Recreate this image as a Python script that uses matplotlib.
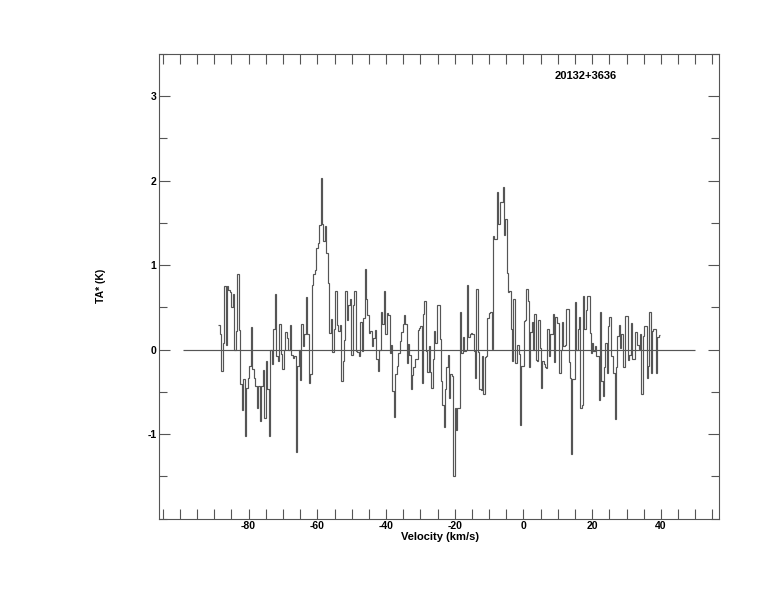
import numpy as np
import matplotlib.pyplot as plt
from matplotlib.ticker import MultipleLocator

plt.rcParams['font.family'] = ['Liberation Sans', 'DejaVu Sans']
plt.rcParams['font.weight'] = 'bold'
plt.rcParams['axes.unicode_minus'] = False

# spectrum in five pieces (TA* in K), each with its velocity span (km/s)
ta_a = [0.29, 0.19, -0.25, 0.08, 0.75, 0.06, 0.75, 0.71, 0.68, 0.51,
        0.66, 0.00, 0.22, 0.90, 0.23, -0.41, -0.71, -0.35, -1.02, -0.45,
        -0.34, -0.19, 0.27, -0.23, -0.33, -0.43, -0.69, -0.43, -0.85, -0.43,
        -0.24, -0.81, -0.13, -0.47, -1.02, 0.00, -0.17, 0.24, 0.66, -0.08,
        -0.13, 0.30, -0.05, -0.23, 0.00, 0.21, 0.14, 0.00, 0.29]
span_a = (-88.9, -67.6)

ta_b = [-0.06, -0.10, -0.08, -1.21, -0.19, 0.00, -0.36, 0.30, 0.04, 0.19,
        0.62, 0.18, -0.40, -0.29, 0.77, 0.89, 0.94, 1.20, 1.26, 1.48,
        2.03, 1.49, 1.29, 1.46, 1.14, 0.79, 0.20, 0.36, -0.03, 0.25,
        0.69, 0.29, 0.22, 0.29, -0.37, -0.13, 0.12, 0.69, 0.35, 0.53,
        0.60, -0.06, 0.53, 0.69, -0.02, -0.03, -0.08, 0.33, -0.02, 0.37,
        0.96, 0.60, 0.41, 0.20, 0.22, 0.04, 0.14, 0.23, -0.11, -0.25,
        0.00, 0.45, 0.30, 0.70, 0.18, 0.43, 0.41, -0.04, 0.06, -0.49,
        -0.80, -0.29, -0.19, -0.04]
span_b = (-67.6, -36.0)

ta_c = [0.10, 0.21, 0.30, 0.41, 0.30, -0.16, 0.07, -0.06, -0.46, -0.30,
        -0.21, -0.11, -0.11, 0.23, 0.26, 0.28, -0.40, 0.42, 0.57, -0.02,
        -0.27, 0.04, -0.27, -0.45, -0.11, 0.22, 0.08, 0.53, 0.53, 0.13,
        -0.37, -0.66, -0.91, -0.47, -0.20, -0.06, -0.57, -0.29, -0.31, -1.50,
        -0.69, -0.95, -0.69, -0.69, 0.44, -0.04, 0.15, -0.02, 0.00, 0.77,
        0.15, 0.19, 0.20, 0.19, -0.02, -0.33, 0.72, -0.03, -0.46, -0.48,
        -0.07, -0.52, -0.09, -0.08, 0.37, 0.43, 0.45, 0.01, 1.34, 1.31,
        1.31, 1.87, 1.49, 1.75, 1.75, 1.92, 1.36, 1.55, 0.91, 0.68]
span_c = (-36.0, -4.1)

ta_d = [0.69, 0.24, -0.13, 0.60, -0.16, -0.16, 0.06, -0.05, -0.89, -0.19,
        -0.19, 0.34, 0.35, 0.72, 0.58, -0.21, 0.21, 0.33, 0.00, 0.42,
        -0.12, -0.13, 0.35, 0.02, -0.45, -0.13, -0.17, -0.21, -0.22, 0.25,
        -0.08, 0.19, 0.19, 0.42, -0.15, 0.39, 0.31, 0.31, -0.28, 0.00,
        0.33, 0.04, 0.06, 0.48, 0.48, -0.15, -0.34, -1.23, -0.35, -0.35,
        0.56, 0.00, 0.24, 0.39, -0.69, -0.65, 0.64, 0.24, 0.47, 0.63,
        0.63, 0.20, -0.04, 0.08, -0.02, 0.04, -0.08, -0.08, -0.60]
span_d = (-4.1, 22.3)

ta_e = [0.45, -0.37, -0.55, -0.20, 0.08, -0.28, 0.28, 0.39, -0.07, -0.07,
        -0.28, -0.82, -0.20, 0.16, 0.29, 0.02, 0.18, -0.21, -0.20, 0.40,
        0.40, -0.12, -0.06, 0.32, -0.11, -0.11, 0.21, 0.21, 0.05, 0.01,
        0.18, -0.53, 0.16, 0.28, 0.28, -0.34, -0.19, 0.44, -0.28, 0.22,
        0.24, 0.24, -0.28, 0.15, 0.17]
span_e = (22.3, 39.7)

baseline_span = (-99, 50)
x_major = [-80, -60, -40, -20, 0, 20, 40]
y_major = [-1, 0, 1, 2, 3]
source_name = '20132+3636'

pieces = [(ta_a, span_a), (ta_b, span_b), (ta_c, span_c), (ta_d, span_d), (ta_e, span_e)]
values = np.concatenate([np.array(p[0]) for p in pieces])
edges = [np.linspace(s[0], s[1], len(t) + 1) for t, s in pieces]
edges = np.concatenate([edges[0]] + [e[1:] for e in edges[1:]])

fig = plt.figure(figsize=(7.74, 6.12), dpi=100)
ax = fig.add_axes([0.2058, 0.1526, 0.7235, 0.7592])

line_col = '#555555'
ax.stairs(values, edges, baseline=None, color=line_col, lw=0.85)
ax.hlines(0, baseline_span[0], baseline_span[1], color=line_col, lw=0.85)

ax.set_xlim(-106, 57)
ax.set_ylim(-2, 3.5)
ax.set_xticks(x_major)
ax.set_yticks(y_major)
ax.xaxis.set_minor_locator(MultipleLocator(5))
ax.yaxis.set_minor_locator(MultipleLocator(0.5))
ax.tick_params(axis='both', which='both', direction='in', top=True, right=True,
               color='#555555', width=0.8, labelsize=7.5, pad=2)
ax.tick_params(axis='x', which='both', length=7.5)
ax.tick_params(axis='y', which='major', length=7.7)
ax.tick_params(axis='y', which='minor', length=5.8)
for s in ax.spines.values():
    s.set_color('#555555')
    s.set_linewidth(0.8)

ax.set_xlabel('Velocity (km/s)', fontsize=8, fontweight='bold')
ax.xaxis.set_label_coords(0.501, -0.029)
ax.set_ylabel('TA* (K)', fontsize=7.5, fontweight='bold')
ax.yaxis.set_label_coords(-0.095, 0.50)
ax.text(0.762, 0.953, source_name, transform=ax.transAxes, ha='center', va='center',
        fontsize=8, fontweight='bold')

fig.savefig('out.png', dpi=100)
